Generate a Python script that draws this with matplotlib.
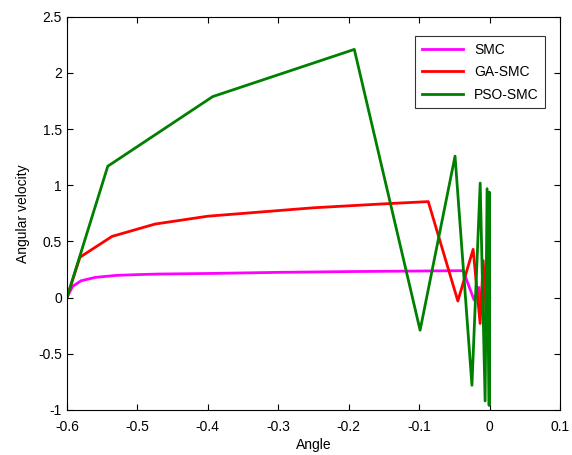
import numpy as np
import matplotlib.pyplot as plt

plt.rcParams['font.family'] = ['Liberation Sans', 'DejaVu Sans']

# SMC
smc_x = [-0.6, -0.592, -0.58, -0.56, -0.53, -0.5, -0.47, -0.4, -0.3, -0.2, -0.1, -0.0375,
         -0.022, -0.015, -0.012, -0.008, -0.004, 0.0]
smc_y = [0.0, 0.1, 0.15, 0.18, 0.198, 0.205, 0.21, 0.215, 0.225, 0.232, 0.237, 0.24,
         -0.02, 0.09, -0.08, 0.05, -0.03, 0.0]

# GA-SMC
ga_x = [-0.6, -0.5815, -0.536, -0.475, -0.4, -0.3, -0.25, -0.15, -0.087,
        -0.045, -0.0233, -0.0134, -0.009, -0.005, -0.002, 0.0]
ga_y = [0.0, 0.36, 0.545, 0.655, 0.725, 0.775, 0.80, 0.835, 0.855,
        -0.03, 0.43, -0.23, 0.33, -0.12, 0.1, 0.0]

# PSO-SMC
pso_x = [-0.6, -0.542, -0.393, -0.192, -0.0986, -0.049, -0.025, -0.0133,
         -0.0063, -0.0035, -0.0006, -0.0003, 0.0]
pso_y = [0.0, 1.17, 1.79, 2.21, -0.29, 1.26, -0.78, 1.02,
         -0.92, 0.97, -0.96, 0.94, -0.95]

fig = plt.figure(figsize=(5.72, 4.55), dpi=100)
ax = fig.add_axes([0.117, 0.099, 0.862, 0.864])

ax.plot(smc_x, smc_y, color='#ff00ff', lw=2, label='SMC')
ax.plot(ga_x, ga_y, color='#ff0000', lw=2, label='GA-SMC')
ax.plot(pso_x, pso_y, color='#008000', lw=2, label='PSO-SMC')

ax.set_xlim(-0.6, 0.1)
ax.set_ylim(-1, 2.5)
ax.set_xticks(np.arange(-0.6, 0.11, 0.1))
ax.set_xticklabels(['-0.6', '-0.5', '-0.4', '-0.3', '-0.2', '-0.1', '0', '0.1'])
ax.set_yticks(np.arange(-1, 2.51, 0.5))
ax.set_yticklabels(['-1', '-0.5', '0', '0.5', '1', '1.5', '2', '2.5'])
ax.tick_params(direction='in', top=True, right=True, labelsize=10, length=4)
ax.tick_params(axis='x', pad=7)
ax.set_xlabel('Angle', fontsize=10, labelpad=3)
ax.set_ylabel('Angular velocity', fontsize=10, labelpad=6)

leg = ax.legend(loc='upper right', bbox_to_anchor=(0.97, 0.95), fontsize=10,
                frameon=True, fancybox=False, edgecolor='black', borderaxespad=0,
                handlelength=3.0, labelspacing=0.62, borderpad=0.45)
leg.get_frame().set_linewidth(0.8)

fig.savefig('out.png', dpi=100)
